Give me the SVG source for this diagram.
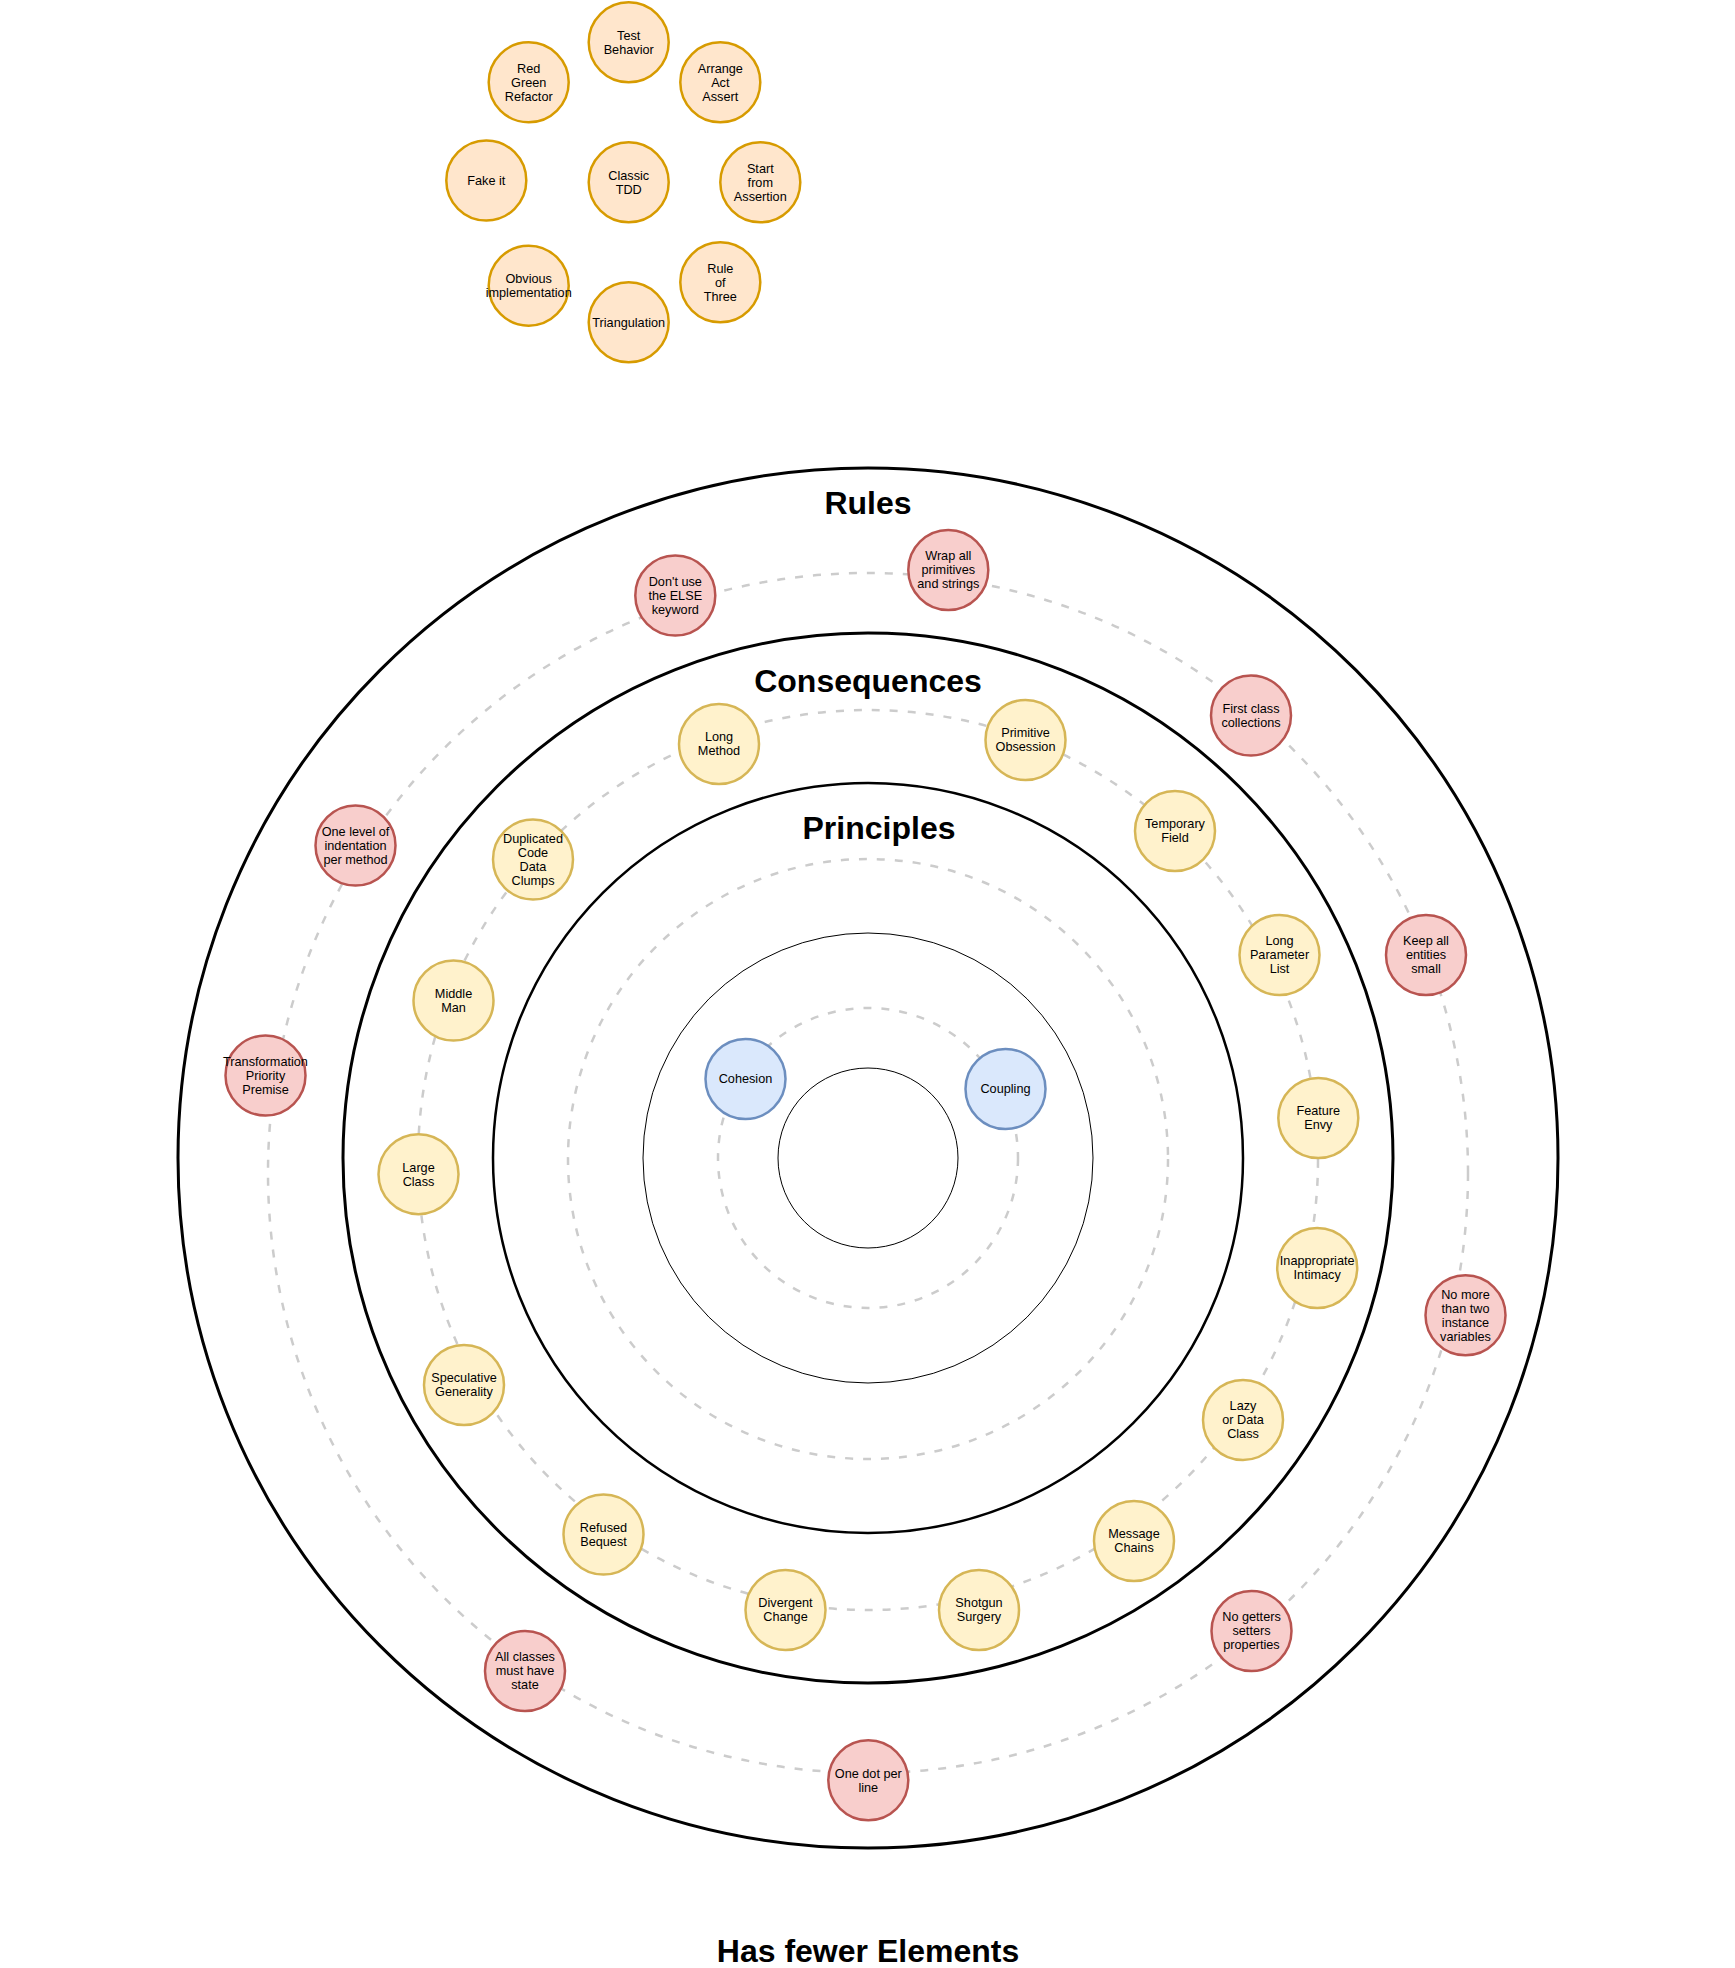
<svg xmlns="http://www.w3.org/2000/svg" width="1735" height="1968" viewBox="0 0 1735 1968">
<style>
.ring{fill:none;stroke:#000}
.dash{fill:none;stroke:#cccccc;stroke-width:2.5;stroke-dasharray:8 10}
.node circle{stroke-width:2.5}
.tdd circle{fill:#ffe6cc;stroke:#d79b00}
.red circle{fill:#f8cecc;stroke:#b85450}
.yel circle{fill:#fff2cc;stroke:#d6b656}
.blue circle{fill:#dae8fc;stroke:#6c8ebf}
.node text{font-family:"Liberation Sans",Arial,sans-serif;font-size:12.7px;fill:#000;text-anchor:middle}
.title{font-family:"Liberation Sans",Arial,sans-serif;font-size:32px;font-weight:bold;fill:#000;text-anchor:middle}
</style>
<rect width="1735" height="1968" fill="#ffffff"/>
<g id="rings">
<circle class="ring" cx="868" cy="1158" r="690" stroke-width="3"/>
<circle class="ring" cx="868" cy="1158" r="525" stroke-width="3"/>
<circle class="ring" cx="868" cy="1158" r="375" stroke-width="2.5"/>
<circle class="ring" cx="868" cy="1158" r="225" stroke-width="1"/>
<circle class="ring" cx="868" cy="1158" r="90" stroke-width="1"/>
</g>
<g id="connectors">
<circle class="dash" cx="868" cy="1173" r="600"/>
<circle class="dash" cx="868" cy="1160" r="450"/>
<circle class="dash" cx="868" cy="1159" r="300"/>
<circle class="dash" cx="868" cy="1158" r="150"/>
</g>
<g id="titles">
<text class="title" x="868" y="514">Rules</text>
<text class="title" x="868" y="692">Consequences</text>
<text class="title" x="879" y="839">Principles</text>
<text class="title" x="868" y="1962">Has fewer Elements</text>
</g>
<g id="tdd-nodes">
<g id="test-behavior" class="node tdd"><circle cx="628.7" cy="42.3" r="40"/><text><tspan x="628.7" y="39.6">Test</tspan><tspan x="628.7" y="53.6">Behavior</tspan></text></g>
<g id="red-green-refactor" class="node tdd"><circle cx="528.7" cy="82.3" r="40"/><text><tspan x="528.7" y="72.6">Red</tspan><tspan x="528.7" y="86.6">Green</tspan><tspan x="528.7" y="100.6">Refactor</tspan></text></g>
<g id="arrange-act-assert" class="node tdd"><circle cx="720.3" cy="82.3" r="40"/><text><tspan x="720.3" y="72.6">Arrange</tspan><tspan x="720.3" y="86.6">Act</tspan><tspan x="720.3" y="100.6">Assert</tspan></text></g>
<g id="fake-it" class="node tdd"><circle cx="486.3" cy="180.5" r="40"/><text><tspan x="486.3" y="184.8">Fake it</tspan></text></g>
<g id="classic-tdd" class="node tdd"><circle cx="628.7" cy="182.3" r="40"/><text><tspan x="628.7" y="179.6">Classic</tspan><tspan x="628.7" y="193.6">TDD</tspan></text></g>
<g id="start-from-assertion" class="node tdd"><circle cx="760.3" cy="182.3" r="40"/><text><tspan x="760.3" y="172.6">Start</tspan><tspan x="760.3" y="186.6">from</tspan><tspan x="760.3" y="200.6">Assertion</tspan></text></g>
<g id="obvious-implementation" class="node tdd"><circle cx="528.7" cy="285.7" r="40"/><text><tspan x="528.7" y="283">Obvious</tspan><tspan x="528.7" y="297">implementation</tspan></text></g>
<g id="rule-of-three" class="node tdd"><circle cx="720.3" cy="282.3" r="40"/><text><tspan x="720.3" y="272.6">Rule</tspan><tspan x="720.3" y="286.6">of</tspan><tspan x="720.3" y="300.6">Three</tspan></text></g>
<g id="triangulation" class="node tdd"><circle cx="628.7" cy="322.3" r="40"/><text><tspan x="628.7" y="326.6">Triangulation</tspan></text></g>
</g>
<g id="rule-nodes">
<g id="dont-use-else" class="node red"><circle cx="675.3" cy="595.5" r="40"/><text><tspan x="675.3" y="585.8">Don't use</tspan><tspan x="675.3" y="599.8">the ELSE</tspan><tspan x="675.3" y="613.8">keyword</tspan></text></g>
<g id="wrap-primitives" class="node red"><circle cx="948.3" cy="570" r="40"/><text><tspan x="948.3" y="560.3">Wrap all</tspan><tspan x="948.3" y="574.3">primitives</tspan><tspan x="948.3" y="588.3">and strings</tspan></text></g>
<g id="first-class-collections" class="node red"><circle cx="1251" cy="715.5" r="40"/><text><tspan x="1251" y="712.8">First class</tspan><tspan x="1251" y="726.8">collections</tspan></text></g>
<g id="keep-entities-small" class="node red"><circle cx="1426" cy="955" r="40"/><text><tspan x="1426" y="945.3">Keep all</tspan><tspan x="1426" y="959.3">entities</tspan><tspan x="1426" y="973.3">small</tspan></text></g>
<g id="no-more-than-two" class="node red"><circle cx="1465.5" cy="1315.3" r="40"/><text><tspan x="1465.5" y="1298.6">No more</tspan><tspan x="1465.5" y="1312.6">than two</tspan><tspan x="1465.5" y="1326.6">instance</tspan><tspan x="1465.5" y="1340.6">variables</tspan></text></g>
<g id="no-getters-setters" class="node red"><circle cx="1251.5" cy="1631" r="40"/><text><tspan x="1251.5" y="1621.3">No getters</tspan><tspan x="1251.5" y="1635.3">setters</tspan><tspan x="1251.5" y="1649.3">properties</tspan></text></g>
<g id="one-dot-per-line" class="node red"><circle cx="868.3" cy="1780.3" r="40"/><text><tspan x="868.3" y="1777.6">One dot per</tspan><tspan x="868.3" y="1791.6">line</tspan></text></g>
<g id="all-classes-state" class="node red"><circle cx="525" cy="1671" r="40"/><text><tspan x="525" y="1661.3">All classes</tspan><tspan x="525" y="1675.3">must have</tspan><tspan x="525" y="1689.3">state</tspan></text></g>
<g id="transformation-priority-premise" class="node red"><circle cx="265.5" cy="1075.5" r="40"/><text><tspan x="265.5" y="1065.8">Transformation</tspan><tspan x="265.5" y="1079.8">Priority</tspan><tspan x="265.5" y="1093.8">Premise</tspan></text></g>
<g id="one-level-indentation" class="node red"><circle cx="355.5" cy="845.5" r="40"/><text><tspan x="355.5" y="835.8">One level of</tspan><tspan x="355.5" y="849.8">indentation</tspan><tspan x="355.5" y="863.8">per method</tspan></text></g>
</g>
<g id="consequence-nodes">
<g id="long-method" class="node yel"><circle cx="719" cy="744" r="40"/><text><tspan x="719" y="741.3">Long</tspan><tspan x="719" y="755.3">Method</tspan></text></g>
<g id="primitive-obsession" class="node yel"><circle cx="1025.5" cy="740" r="40"/><text><tspan x="1025.5" y="737.3">Primitive</tspan><tspan x="1025.5" y="751.3">Obsession</tspan></text></g>
<g id="temporary-field" class="node yel"><circle cx="1175" cy="831" r="40"/><text><tspan x="1175" y="828.3">Temporary</tspan><tspan x="1175" y="842.3">Field</tspan></text></g>
<g id="long-parameter-list" class="node yel"><circle cx="1279.5" cy="955" r="40"/><text><tspan x="1279.5" y="945.3">Long</tspan><tspan x="1279.5" y="959.3">Parameter</tspan><tspan x="1279.5" y="973.3">List</tspan></text></g>
<g id="feature-envy" class="node yel"><circle cx="1318.3" cy="1118" r="40"/><text><tspan x="1318.3" y="1115.3">Feature</tspan><tspan x="1318.3" y="1129.3">Envy</tspan></text></g>
<g id="inappropriate-intimacy" class="node yel"><circle cx="1317.2" cy="1268" r="40"/><text><tspan x="1317.2" y="1265.3">Inappropriate</tspan><tspan x="1317.2" y="1279.3">Intimacy</tspan></text></g>
<g id="lazy-data-class" class="node yel"><circle cx="1243" cy="1420" r="40"/><text><tspan x="1243" y="1410.3">Lazy</tspan><tspan x="1243" y="1424.3">or Data</tspan><tspan x="1243" y="1438.3">Class</tspan></text></g>
<g id="message-chains" class="node yel"><circle cx="1134" cy="1541" r="40"/><text><tspan x="1134" y="1538.3">Message</tspan><tspan x="1134" y="1552.3">Chains</tspan></text></g>
<g id="shotgun-surgery" class="node yel"><circle cx="979" cy="1610" r="40"/><text><tspan x="979" y="1607.3">Shotgun</tspan><tspan x="979" y="1621.3">Surgery</tspan></text></g>
<g id="divergent-change" class="node yel"><circle cx="785.5" cy="1610" r="40"/><text><tspan x="785.5" y="1607.3">Divergent</tspan><tspan x="785.5" y="1621.3">Change</tspan></text></g>
<g id="refused-bequest" class="node yel"><circle cx="603.5" cy="1534.5" r="40"/><text><tspan x="603.5" y="1531.8">Refused</tspan><tspan x="603.5" y="1545.8">Bequest</tspan></text></g>
<g id="speculative-generality" class="node yel"><circle cx="464" cy="1385" r="40"/><text><tspan x="464" y="1382.3">Speculative</tspan><tspan x="464" y="1396.3">Generality</tspan></text></g>
<g id="large-class" class="node yel"><circle cx="418.5" cy="1174.2" r="40"/><text><tspan x="418.5" y="1171.5">Large</tspan><tspan x="418.5" y="1185.5">Class</tspan></text></g>
<g id="middle-man" class="node yel"><circle cx="453.5" cy="1000.5" r="40"/><text><tspan x="453.5" y="997.8">Middle</tspan><tspan x="453.5" y="1011.8">Man</tspan></text></g>
<g id="duplicated-code" class="node yel"><circle cx="533" cy="859.5" r="40"/><text><tspan x="533" y="842.8">Duplicated</tspan><tspan x="533" y="856.8">Code</tspan><tspan x="533" y="870.8">Data</tspan><tspan x="533" y="884.8">Clumps</tspan></text></g>
</g>
<g id="principle-nodes">
<g id="cohesion" class="node blue"><circle cx="745.5" cy="1079" r="40"/><text><tspan x="745.5" y="1083.3">Cohesion</tspan></text></g>
<g id="coupling" class="node blue"><circle cx="1005.5" cy="1089" r="40"/><text><tspan x="1005.5" y="1093.3">Coupling</tspan></text></g>
</g>
</svg>
